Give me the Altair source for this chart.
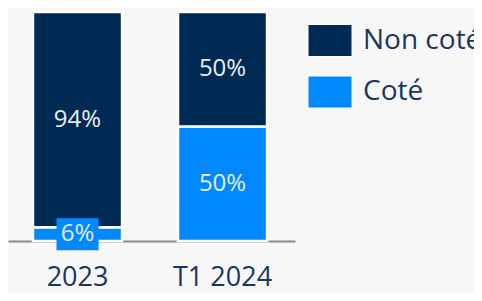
import altair as alt
import pandas as pd

periods = ["2023", "2023", "T1 2024", "T1 2024"]
types = ["Coté", "Non coté", "Coté", "Non coté"]
values = [6, 94, 50, 50]
stack_order = [0, 1, 0, 1]
period_order = ["2023", "T1 2024"]
legend_order = ["Non coté", "Coté"]
colors = ["#002a54", "#0088fe"]

df = pd.DataFrame({
    "period": periods,
    "type": types,
    "value": values,
    "ord": stack_order,
})
df["label"] = [f"{v}%" for v in values]

FONT = "Open Sans"
TEXT_DARK = "#1b365d"

xscale = alt.Scale(domain=period_order, paddingInner=0.386, paddingOuter=0.1826, align=0.472)
yscale = alt.Scale(domain=[0, 100])

base = alt.Chart(df)

bars = base.mark_bar(stroke="white", strokeWidth=2.5).encode(
    x=alt.X("period:N", scale=xscale, sort=period_order,
            axis=alt.Axis(title=None, labelAngle=0, labelFontSize=27, labelPadding=23,
                          ticks=False, tickSize=0, domainColor="#8a8a8a", domainWidth=2,
                          labelColor=TEXT_DARK, labelFont=FONT)),
    y=alt.Y("value:Q", stack="zero", scale=yscale, axis=None),
    color=alt.Color("type:N", scale=alt.Scale(domain=legend_order, range=colors),
                    legend=alt.Legend(title=None, orient="none", legendX=305.5, legendY=12,
                                      symbolType="M-1.375,-1L1.375,-1L1.375,1L-1.375,1Z",
                                      symbolSize=1024, symbolStrokeColor="white",
                                      symbolStrokeWidth=1, symbolOpacity=1,
                                      labelFontSize=28, labelFont=FONT, labelColor=TEXT_DARK,
                                      labelOffset=16.5, rowPadding=14.5, padding=0,
                                      labelLimit=300)),
    order=alt.Order("ord:Q"),
)

stacked = base.transform_stack(
    stack="value", groupby=["period"], as_=["y0", "y1"], sort=[alt.SortField("ord")]
).transform_calculate(mid="(datum.y0 + datum.y1) / 2")

box = stacked.transform_filter("datum.value < 10").mark_point(
    shape="M-1.3125,-1L1.3125,-1L1.3125,1L-1.3125,1Z", size=1024, filled=True,
    fill=colors[1], opacity=1, strokeWidth=0,
).encode(
    x=alt.X("period:N", scale=xscale, sort=period_order),
    y=alt.Y("mid:Q", scale=yscale),
)

text = stacked.mark_text(fontSize=24, font=FONT, color="#e8eef4").encode(
    x=alt.X("period:N", scale=xscale, sort=period_order),
    y=alt.Y("mid:Q", scale=yscale),
    text="label:N",
)

chart = alt.layer(bars, box, text).properties(
    width=287, height=229,
    autosize=alt.AutoSizeParams(type="none"),
    padding={"left": 0, "top": 4, "right": 179, "bottom": 52},
    background="#f7f7f7",
).configure_view(strokeWidth=0)

chart.save("out.html", embed_options={"renderer": "svg", "actions": False})
